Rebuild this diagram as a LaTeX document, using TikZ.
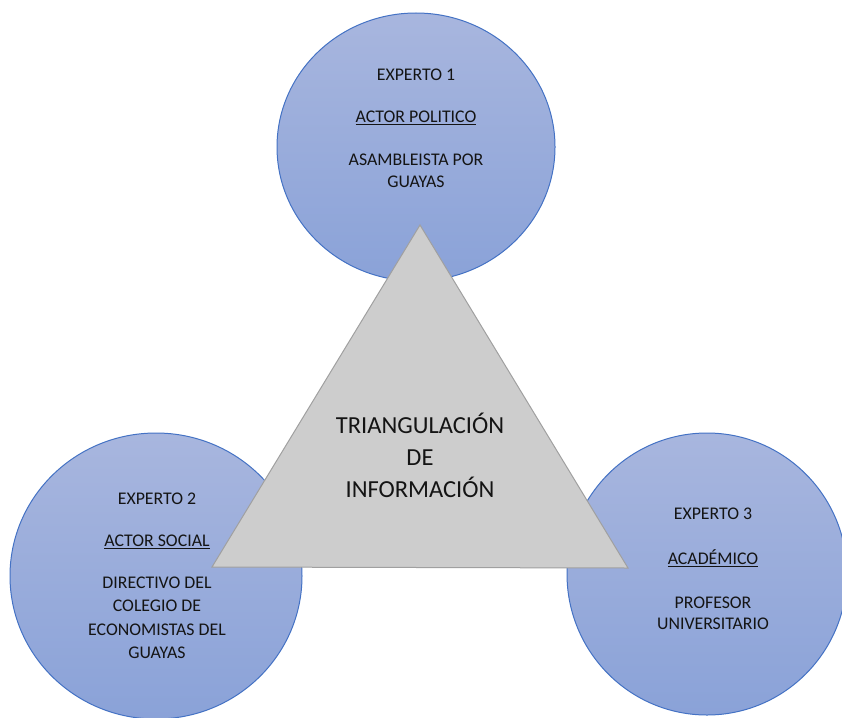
\documentclass[tikz,border=0pt]{standalone}
\usepackage{fontspec}
\setmainfont{Carlito}
\usetikzlibrary{shapes.geometric}
\definecolor{ctop}{RGB}{168,182,222}
\definecolor{cbot}{RGB}{138,162,216}
\definecolor{cline}{RGB}{68,114,196}
\definecolor{tfill}{RGB}{205,205,205}
\definecolor{tline}{RGB}{160,160,160}
\definecolor{txt}{RGB}{20,20,20}
\tikzset{
 expert/.style={ellipse, draw=cline, line width=1pt, top color=ctop, bottom color=cbot, inner sep=0pt},
 ctext/.style={align=center, text=txt, font=\fontsize{17.8}{22.5}\selectfont, inner sep=0pt},
 ttext/.style={align=center, text=txt, font=\fontsize{24.5}{32}\selectfont, inner sep=0pt},
 tri/.style={fill=tfill, draw=tline, line width=1pt, line join=miter},
}
\begin{document}
\begin{tikzpicture}[x=1pt,y=-1pt]
\useasboundingbox (0,0) rectangle (842,717);
\node[expert, minimum width=278pt, minimum height=268pt] (c1) at (416,147) {};
\node[expert, minimum width=292pt, minimum height=286pt] (c2) at (156,576) {};
\node[expert, minimum width=280pt, minimum height=282pt] (c3) at (707,574) {};
\coordinate (ta) at (420,225);
\coordinate (tb) at (212,567);
\coordinate (tc) at (628,568);
\draw[tri] (ta) -- (tb) -- (tc) -- cycle;
\node[ctext] (t1) at (416,128.5) {EXPERTO 1\\[20pt]\underline{ACTOR POLITICO}\\[20pt]ASAMBLEISTA POR\\GUAYAS};
\node[ctext, font=\fontsize{17.8}{23.5}\selectfont] (t2) at (157,576) {EXPERTO 2\\[18.5pt]\underline{ACTOR SOCIAL}\\[18.5pt]DIRECTIVO DEL\\COLEGIO DE\\ECONOMISTAS DEL\\GUAYAS};
\node[ctext, font=\fontsize{17.8}{21.5}\selectfont] (t3) at (713,569) {EXPERTO 3\\[23pt]\underline{ACADÉMICO}\\[22.5pt]PROFESOR\\UNIVERSITARIO};
\node[ttext] (tt) at (420,455) {TRIANGULACIÓN\\DE\\INFORMACIÓN};
\end{tikzpicture}
\end{document}
